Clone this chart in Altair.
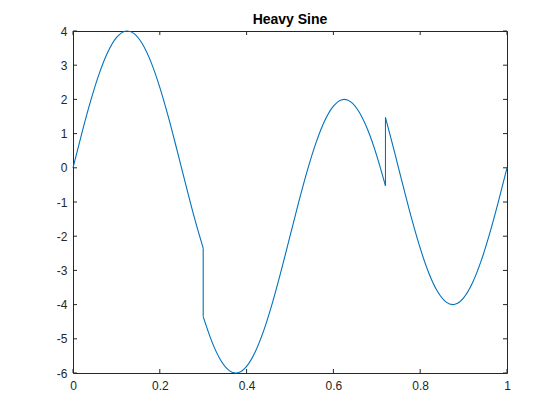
import altair as alt
import pandas as pd

# Curve readings (t, value) for the three continuous pieces
t_a = [0.0, 0.02, 0.04, 0.06, 0.08, 0.10, 0.12, 0.125, 0.14, 0.16, 0.18, 0.20,
       0.22, 0.24, 0.26, 0.28, 0.30]
y_a = [0.0, 0.995, 1.927, 2.738, 3.377, 3.804, 3.992, 4.0, 3.929, 3.619, 3.082, 2.351,
       1.473, 0.501, -0.501, -1.473, -2.351]

t_b = [0.30, 0.32, 0.34, 0.36, 0.375, 0.38, 0.40, 0.42, 0.44, 0.46, 0.48, 0.50,
       0.52, 0.54, 0.56, 0.58, 0.60, 0.62, 0.625, 0.64, 0.66, 0.68, 0.70, 0.72]
y_b = [-4.351, -5.082, -5.619, -5.929, -6.0, -5.992, -5.804, -5.377, -4.738, -3.927, -2.995, -2.0,
       -1.005, -0.073, 0.738, 1.377, 1.804, 1.992, 2.0, 1.929, 1.619, 1.082, 0.351, -0.527]

t_c = [0.72, 0.74, 0.76, 0.78, 0.80, 0.82, 0.84, 0.86, 0.875, 0.88, 0.90, 0.92,
       0.94, 0.96, 0.98, 1.0]
y_c = [1.473, 0.501, -0.501, -1.473, -2.351, -3.082, -3.619, -3.929, -4.0, -3.992, -3.804, -3.377,
       -2.738, -1.927, -0.995, 0.0]

# Jumps
jump_t = [0.30, 0.30, 0.72, 0.72]
jump_y = [-2.351, -4.351, -0.527, 1.473]
jump_id = ["j1", "j1", "j2", "j2"]

x_ticks = [0, 0.2, 0.4, 0.6, 0.8, 1]
y_ticks = [-6, -5, -4, -3, -2, -1, 0, 1, 2, 3, 4]

title_text = ["Heavy Sine"]

W, H = 434, 342
LINE = "#0072BD"
AX = "#262626"
FONT = "Liberation Sans"

curve = pd.DataFrame({
    "t": t_a + t_b + t_c,
    "y": y_a + y_b + y_c,
    "seg": ["a"] * len(t_a) + ["b"] * len(t_b) + ["c"] * len(t_c),
})
jumps = pd.DataFrame({"t": jump_t, "y": jump_y, "seg": jump_id})
xt = pd.DataFrame({"v": x_ticks})
yt = pd.DataFrame({"v": y_ticks})
tt = pd.DataFrame({"label": title_text})

xs = alt.Scale(domain=[0, 1], nice=False, zero=False)
ys = alt.Scale(domain=[-6, 4], nice=False, zero=False)

axis_common = dict(ticks=False, tickSize=0, domain=False, grid=False,
                   labelFont=FONT, labelFontSize=12, labelColor=AX,
                   labelOverlap=False, labelFlush=False,
                   labelExpr="'' + datum.value", title=None)

x_axis = alt.Axis(values=x_ticks, labelPadding=7, **axis_common)
y_axis = alt.Axis(values=y_ticks, labelPadding=6, **axis_common)

line = alt.Chart(curve).mark_line(color=LINE, strokeWidth=1.1, interpolate="monotone").encode(
    x=alt.X("t:Q", scale=xs, axis=x_axis),
    y=alt.Y("y:Q", scale=ys, axis=y_axis),
    detail="seg:N",
)

jump = alt.Chart(jumps).mark_line(color=LINE, strokeWidth=1.1).encode(
    x=alt.X("t:Q", scale=xs, axis=x_axis),
    y=alt.Y("y:Q", scale=ys, axis=y_axis),
    detail="seg:N",
)

TL = 4
tick_bottom = alt.Chart(xt).mark_rule(color=AX, strokeWidth=1).encode(
    x=alt.X("v:Q", scale=xs, axis=x_axis), y=alt.value(H), y2=alt.value(H - TL))
tick_top = alt.Chart(xt).mark_rule(color=AX, strokeWidth=1).encode(
    x=alt.X("v:Q", scale=xs, axis=x_axis), y=alt.value(0), y2=alt.value(TL))
tick_left = alt.Chart(yt).mark_rule(color=AX, strokeWidth=1).encode(
    y=alt.Y("v:Q", scale=ys, axis=y_axis), x=alt.value(0), x2=alt.value(TL))
tick_right = alt.Chart(yt).mark_rule(color=AX, strokeWidth=1).encode(
    y=alt.Y("v:Q", scale=ys, axis=y_axis), x=alt.value(W), x2=alt.value(W - TL))

title = alt.Chart(tt).mark_text(font=FONT, fontSize=14, fontWeight="bold", color="#000000",
                                align="center", baseline="alphabetic").encode(
    text="label:N", x=alt.value(W / 2), y=alt.value(-7))

chart = alt.layer(line, jump, tick_bottom, tick_top, tick_left, tick_right, title).properties(
    width=W,
    height=H,
    autosize=alt.AutoSizeParams(type="none"),
    padding={"left": 65, "top": 23, "right": 10, "bottom": 40},
    background="white",
).configure_view(stroke=AX, strokeWidth=1)

chart.save("out.html", embed_options={"renderer": "svg", "actions": False})
